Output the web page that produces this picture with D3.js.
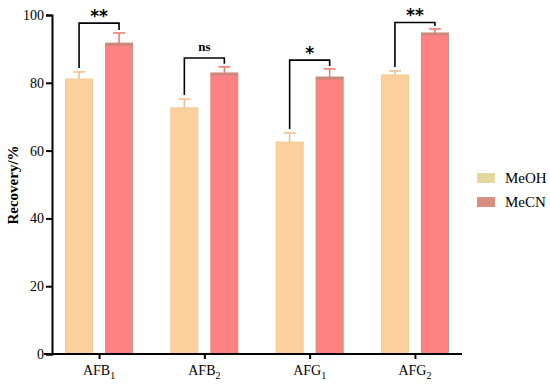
<!DOCTYPE html>
<html>
<head>
<meta charset="utf-8">
<script src="https://cdn.jsdelivr.net/npm/d3@7"></script>
</head>
<body style="margin:0; background:#fff;">
<script>
// data
var categories = ["AFB1", "AFB2", "AFG1", "AFG2"];
var subscripts = ["1", "2", "1", "2"];
var bases = ["AFB", "AFB", "AFG", "AFG"];
var series = ["MeOH", "MeCN"];
var meohValues = [81.1, 72.6, 62.5, 82.3];
var meohErrors = [2.1, 2.6, 2.7, 1.2];
var mecnValues = [91.7, 82.9, 81.7, 94.7];
var mecnErrors = [3.0, 1.8, 2.4, 1.2];
var bracketTops = [97.6, 87.3, 86.7, 97.8];
var signif = ["**", "ns", "*", "**"];
var yTicks = [0, 20, 40, 60, 80, 100];

var w = 550, h = 387;
var margin = {left: 52, right: 88, top: 15, bottom: 33};
var serif = "'Liberation Serif'";

var svg = d3.select("body").append("svg")
    .attr("width", w)
    .attr("height", h);

var x = d3.scalePoint()
    .domain(categories)
    .range([margin.left, w - margin.right])
    .padding(0.447);

var y = d3.scaleLinear()
    .domain([0, 100])
    .range([h - margin.bottom, margin.top]);

var barW = 27, offset = 20;
var fills = {MeOH: "#fbd09c", MeCN: "#ff8282"};
var strokes = {MeOH: "#f0c890", MeCN: "#d08c7c"};
var errCol = {MeOH: "#eebc88", MeCN: "#e8786a"};

var rows = [];
categories.forEach(function(c, i){
    rows.push({cat: c, s: "MeOH", v: meohValues[i], e: meohErrors[i], dx: -offset});
    rows.push({cat: c, s: "MeCN", v: mecnValues[i], e: mecnErrors[i], dx: offset});
});

// bars
svg.selectAll(".bar").data(rows).enter().append("rect")
    .attr("class", "bar")
    .attr("x", function(d){ return x(d.cat) + d.dx - barW / 2; })
    .attr("y", function(d){ return y(d.v); })
    .attr("width", barW)
    .attr("height", function(d){ return y(0) - y(d.v); })
    .style("fill", function(d){ return fills[d.s]; })
    .style("stroke", function(d){ return strokes[d.s]; })
    .style("stroke-width", 1);

// darker top edge on MeCN bars
svg.selectAll(".topband").data(rows.filter(function(d){ return d.s == "MeCN"; })).enter().append("rect")
    .attr("x", function(d){ return x(d.cat) + d.dx - barW / 2; })
    .attr("y", function(d){ return y(d.v); })
    .attr("width", barW)
    .attr("height", 2.5)
    .style("fill", "#c8887a");

// error bars
var eb = svg.selectAll(".err").data(rows).enter().append("g");
eb.append("line")
    .attr("x1", function(d){ return x(d.cat) + d.dx; })
    .attr("x2", function(d){ return x(d.cat) + d.dx; })
    .attr("y1", function(d){ return y(d.v); })
    .attr("y2", function(d){ return y(d.v + d.e); })
    .style("stroke", function(d){ return errCol[d.s]; })
    .style("stroke-width", 1.5);
eb.append("line")
    .attr("x1", function(d){ return x(d.cat) + d.dx - 6; })
    .attr("x2", function(d){ return x(d.cat) + d.dx + 6; })
    .attr("y1", function(d){ return y(d.v + d.e); })
    .attr("y2", function(d){ return y(d.v + d.e); })
    .style("stroke", function(d){ return errCol[d.s]; })
    .style("stroke-width", 1.5);

// significance brackets
categories.forEach(function(c, i){
    var xl = x(c) - offset, xr = x(c) + offset;
    var yl = y(meohValues[i] + meohErrors[i]) - 4;
    var yr = y(mecnValues[i] + mecnErrors[i]) - 3;
    var yt = y(bracketTops[i]);
    svg.append("path")
        .attr("d", "M" + xl + "," + yl + "V" + yt + "H" + xr + "V" + yr)
        .style("fill", "none")
        .style("stroke", "#000")
        .style("stroke-width", 1.6);
    var isStar = signif[i] != "ns";
    svg.append("text")
        .attr("x", x(c))
        .attr("y", yt - (isStar ? 1 : 7))
        .attr("text-anchor", "middle")
        .attr("font-family", isStar ? "'DejaVu Sans'" : serif)
        .attr("font-size", isStar ? 17 : 13)
        .attr("font-weight", "bold")
        .text(signif[i]);
});

// axes
var yAxis = svg.append("g")
    .attr("transform", "translate(" + margin.left + ",0)")
    .call(d3.axisLeft(y).tickValues(yTicks).tickSize(6).tickPadding(2));
var xAxis = svg.append("g")
    .attr("transform", "translate(0," + y(0) + ")")
    .call(d3.axisBottom(x).tickSize(5).tickFormat(""));
xAxis.select(".domain").attr("d", "M" + (margin.left - 8) + ",0H" + (w - margin.right));

[yAxis, xAxis].forEach(function(a){
    a.attr("font-family", serif).attr("font-size", 14);
    a.selectAll(".domain").style("stroke", "#000").style("stroke-width", 2);
    a.selectAll(".tick line").style("stroke", "#000").style("stroke-width", 2);
});
yAxis.selectAll(".tick text")
    .attr("font-family", serif)
    .attr("font-size", 14)
    .style("fill", "#000");

// category labels with subscripts
categories.forEach(function(c, i){
    var t = svg.append("text")
        .attr("x", x(c))
        .attr("y", y(0) + 21)
        .attr("text-anchor", "middle")
        .attr("font-family", serif)
        .attr("font-size", 14);
    t.append("tspan").text(bases[i]);
    t.append("tspan").attr("dy", 4).attr("font-size", 10).text(subscripts[i]);
});

// y label
svg.append("text")
    .attr("transform", "translate(18," + 185 + ") rotate(-90)")
    .attr("text-anchor", "middle")
    .attr("font-family", serif)
    .attr("font-size", 15)
    .attr("font-weight", "bold")
    .text("Recovery/%");

// legend
var legFill = {MeOH: "#e4d69c", MeCN: "#d98e80"};
var leg = svg.selectAll(".leg").data(series).enter().append("g")
    .attr("transform", function(d, i){ return "translate(477," + (173 + i * 24) + ")"; });
leg.append("rect")
    .attr("width", 18)
    .attr("height", 10)
    .style("fill", function(d){ return legFill[d]; });
leg.append("text")
    .attr("x", 28)
    .attr("y", 10)
    .attr("font-family", serif)
    .attr("font-size", 15)
    .text(function(d){ return d; });
</script>
</body>
</html>
